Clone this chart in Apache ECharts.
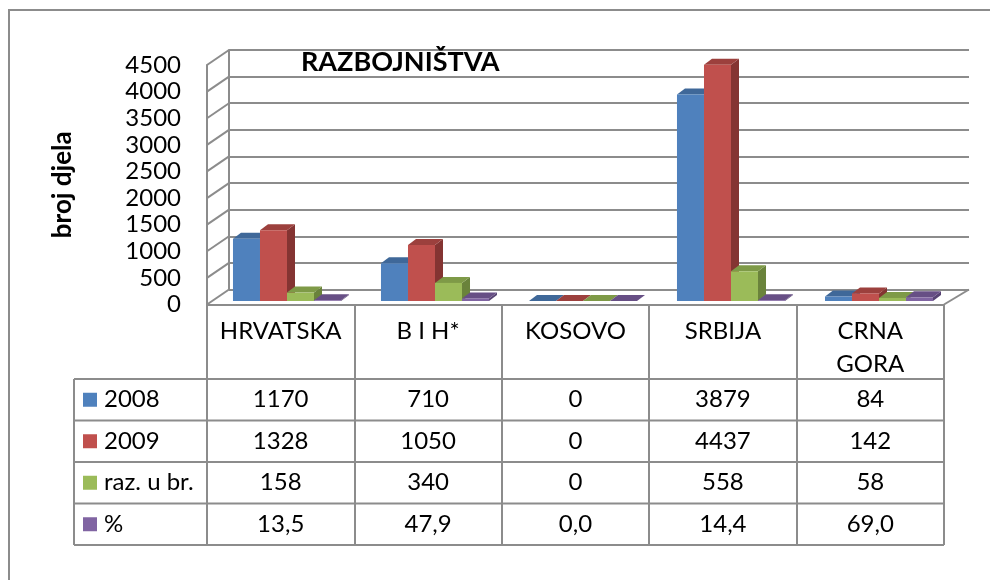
<!DOCTYPE html>
<html>
<head>
<meta charset="utf-8">
<script src="https://cdn.jsdelivr.net/npm/echarts@6/dist/echarts.min.js"></script>
<style>
  html, body { margin: 0; padding: 0; background: #fff; }
  #main { width: 990px; height: 580px; }
</style>
</head>
<body>
<div id="main"></div>
<script>
// podaci - razbojništva
const categories = ['HRVATSKA', 'B I H*', 'KOSOVO', 'SRBIJA', 'CRNA\nGORA'];
const seriesNames = ['2008', '2009', 'raz. u br.', '%'];
const v2008 = [1170, 710, 0, 3879, 84];
const v2009 = [1328, 1050, 0, 4437, 142];
const vDiff = [158, 340, 0, 558, 58];
const vPct = [13.5, 47.9, 0.0, 14.4, 69.0];
const yTicks = [0, 500, 1000, 1500, 2000, 2500, 3000, 3500, 4000, 4500];

const allValues = [v2008, v2009, vDiff, vPct];

// boje (Excel 2007)
const faceColors = ['#4F81BD', '#C0504D', '#9BBB59', '#8064A2'];
const topColors = ['#3F6899', '#9C403D', '#7E9A47', '#674F85'];
const sideColors = ['#365A86', '#843432', '#6A833B', '#574373'];

const FONT = 'Lato';
const FS = 24;
const LINE = '#8c8c8c';

// zadnji zid i prednja ravnina
const BACK = { left: 229, top: 50, width: 740, height: 239.5 };
const FRONT = { left: 207, top: 65, width: 737, height: 239.5 };
const BAR_SHIFT_X = -16, BAR_SHIFT_Y = 11.5; // ravnina stupaca
const DEPTH_X = 8, DEPTH_Y = 6; // dubina stupca
const GROUP = 0.73;

const ROW0 = 379, ROW_H = 41.5; // tablica
const TABLE_LEFT = 74;

function fmt(r, v) {
  return r === 3 ? v.toFixed(1).replace('.', ',') : String(v);
}

function barRenderer(sIdx) {
  return function (params, api) {
    const c = api.value(0);
    const base = api.coord([c, 0]);
    const top = api.coord([c, api.value(1)]);
    const band = api.size([1, 0])[0];
    const bw = band * GROUP / 4;
    const x0 = base[0] + BAR_SHIFT_X - band * GROUP / 2 + sIdx * bw;
    const yb = base[1] + BAR_SHIFT_Y;
    const yt = top[1] + BAR_SHIFT_Y;
    return {
      type: 'group',
      children: [
        { type: 'polygon', shape: { points: [[x0 + bw, yt], [x0 + bw + DEPTH_X, yt - DEPTH_Y], [x0 + bw + DEPTH_X, yb - DEPTH_Y], [x0 + bw, yb]] }, style: { fill: sideColors[sIdx] } },
        { type: 'polygon', shape: { points: [[x0, yt], [x0 + bw, yt], [x0 + bw + DEPTH_X, yt - DEPTH_Y], [x0 + DEPTH_X, yt - DEPTH_Y]] }, style: { fill: topColors[sIdx] } },
        { type: 'rect', shape: { x: x0, y: yt, width: bw, height: yb - yt }, style: { fill: faceColors[sIdx] } }
      ]
    };
  };
}

// kose linije bocnog zida i poda
function wallRenderer(params, api) {
  const cs = params.coordSys;
  const p = api.coord([0, api.value(1)]);
  const dx = BACK.left - FRONT.left, dy = FRONT.top - BACK.top;
  const children = [
    { type: 'line', shape: { x1: cs.x, y1: p[1], x2: cs.x - dx, y2: p[1] + dy }, style: { stroke: LINE, lineWidth: 2 } }
  ];
  if (params.dataIndex === 0) {
    children.push({ type: 'line', shape: { x1: cs.x + cs.width, y1: p[1], x2: FRONT.left + FRONT.width, y2: FRONT.top + FRONT.height }, style: { stroke: LINE, lineWidth: 2 } });
  }
  return { type: 'group', children: children };
}

const chart = echarts.init(document.getElementById('main'));

const bandW = FRONT.width / categories.length;
const graphics = [
  { type: 'rect', z: -1, shape: { x: 9, y: 10, width: 1100, height: 700 }, style: { fill: 'none', stroke: LINE, lineWidth: 2 } },
  { type: 'line', shape: { x1: TABLE_LEFT, y1: ROW0, x2: TABLE_LEFT, y2: ROW0 + ROW_H * 4 }, style: { stroke: LINE, lineWidth: 2 } }
];
for (let r = 0; r <= 4; r++) {
  graphics.push({ type: 'line', shape: { x1: TABLE_LEFT, y1: ROW0 + r * ROW_H, x2: FRONT.left + FRONT.width, y2: ROW0 + r * ROW_H }, style: { stroke: LINE, lineWidth: 2 } });
}
allValues.forEach(function (vals, r) {
  const cy = ROW0 + r * ROW_H + ROW_H / 2;
  graphics.push({ type: 'rect', shape: { x: 83, y: cy - 7, width: 14, height: 14 }, style: { fill: faceColors[r] } });
  graphics.push({ type: 'text', x: 104, y: cy, style: { text: seriesNames[r], fontFamily: FONT, fontSize: FS, fill: '#000', align: 'left', verticalAlign: 'middle' } });
  vals.forEach(function (v, c) {
    graphics.push({ type: 'text', x: FRONT.left + bandW * (c + 0.5), y: cy, style: { text: fmt(r, v), fontFamily: FONT, fontSize: FS, fill: '#000', align: 'center', verticalAlign: 'middle' } });
  });
});

const yMin = yTicks[0], yMax = yTicks[yTicks.length - 1], yStep = yTicks[1] - yTicks[0];

chart.setOption({
  animation: false,
  title: {
    text: 'RAZBOJNIŠTVA',
    left: 301, top: 49, padding: 0,
    textStyle: { fontFamily: FONT, fontSize: 27, fontWeight: 'bold', color: '#000' }
  },
  grid: [
    { left: BACK.left, top: BACK.top, width: BACK.width, height: BACK.height },
    { left: FRONT.left, top: FRONT.top, width: FRONT.width, height: FRONT.height }
  ],
  xAxis: [
    { gridIndex: 0, type: 'category', data: categories, show: false },
    {
      gridIndex: 1, type: 'category', data: categories,
      axisLine: { show: true, lineStyle: { color: LINE, width: 2 } },
      axisTick: { show: true, interval: 0, length: ROW0 + ROW_H * 4 - (FRONT.top + FRONT.height), lineStyle: { color: LINE, width: 2 } },
      axisLabel: { interval: 0, hideOverlap: false, margin: 10, lineHeight: 33, fontFamily: FONT, fontSize: FS, color: '#000', verticalAlign: 'top' }
    }
  ],
  yAxis: [
    {
      gridIndex: 0, type: 'value', min: yMin, max: yMax, interval: yStep,
      axisLabel: { show: false }, axisTick: { show: false },
      axisLine: { show: true, lineStyle: { color: LINE, width: 2 } },
      splitLine: { show: true, lineStyle: { color: LINE, width: 2 } }
    },
    {
      gridIndex: 1, type: 'value', min: yMin, max: yMax, interval: yStep,
      name: 'broj djela', nameLocation: 'middle', nameGap: 131,
      nameTextStyle: { fontFamily: FONT, fontSize: 26, fontWeight: 'bold', color: '#000' },
      axisLabel: { margin: 26, fontFamily: FONT, fontSize: FS, color: '#000', formatter: function (v) { return String(v); } },
      axisTick: { show: false },
      axisLine: { show: true, lineStyle: { color: LINE, width: 2 } },
      splitLine: { show: false }
    }
  ],
  graphic: graphics,
  series: [
    {
      type: 'custom', xAxisIndex: 0, yAxisIndex: 0, silent: true,
      renderItem: wallRenderer,
      data: yTicks.map(function (v) { return [0, v]; })
    }
  ].concat(allValues.map(function (vals, s) {
    return {
      type: 'custom', name: seriesNames[s], xAxisIndex: 0, yAxisIndex: 0,
      renderItem: barRenderer(s),
      data: vals.map(function (v, i) { return [i, v]; })
    };
  }))
});
</script>
</body>
</html>
